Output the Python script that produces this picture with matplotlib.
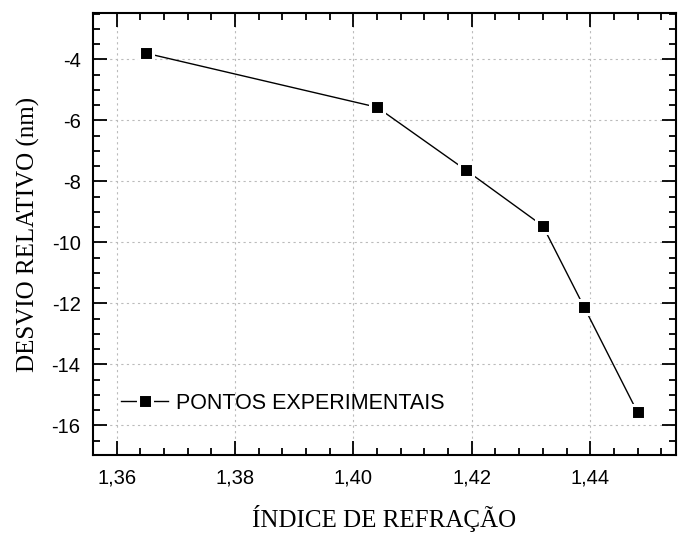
import numpy as np
import matplotlib.pyplot as plt
from matplotlib.ticker import MultipleLocator, FuncFormatter

plt.rcParams['axes.unicode_minus'] = False

# Data
indice = [1.365, 1.404, 1.419, 1.432, 1.439, 1.448]
desvio = [-3.80, -5.57, -7.63, -9.46, -12.13, -15.57]

x_ticks = [1.36, 1.38, 1.40, 1.42, 1.44]
y_ticks = [-4, -6, -8, -10, -12, -14, -16]

fig = plt.figure(figsize=(6.8, 5.33), dpi=100)
ax = fig.add_axes([93 / 680, 1 - 455 / 533, (676 - 93) / 680, (455 - 13) / 533])

ax.plot(indice, desvio, color='black', lw=1.0, marker='s', ms=10,
        mfc='black', mec='white', mew=2.2, label='PONTOS EXPERIMENTAIS')

ax.set_xlim(1.356, 1.4545)
ax.set_ylim(-16.97, -2.48)
ax.set_xticks(x_ticks)
ax.set_yticks(y_ticks)
ax.xaxis.set_minor_locator(MultipleLocator(0.004))
ax.yaxis.set_minor_locator(MultipleLocator(0.5))
ax.xaxis.set_major_formatter(FuncFormatter(lambda v, p: f"{v:.2f}".replace('.', ',')))

ax.tick_params(which='both', direction='in', top=True, right=True, width=1.3)
ax.tick_params(which='major', length=10, labelsize=14.5)
ax.tick_params(axis='x', which='major', pad=10)
ax.tick_params(axis='y', which='major', pad=9)
ax.tick_params(which='minor', length=5)
for lab in ax.get_xticklabels() + ax.get_yticklabels():
    lab.set_family('Liberation Sans')
for sp in ax.spines.values():
    sp.set_linewidth(1.5)

ax.grid(True, which='major', color='#bbbbbb', linestyle=(0, (2, 3)), lw=0.8)

ax.set_xlabel('ÍNDICE DE REFRAÇÃO', family='Liberation Serif', fontsize=18, labelpad=12)
ax.set_ylabel('DESVIO RELATIVO (nm)', family='Liberation Serif', fontsize=18, labelpad=8)

leg = ax.legend(loc='lower left', frameon=False, handlelength=2.2, handletextpad=0.35,
                bbox_to_anchor=(0.015, 0.05), prop={'family': 'Liberation Sans', 'size': 15.5})

plt.savefig('out.png', dpi=100)
